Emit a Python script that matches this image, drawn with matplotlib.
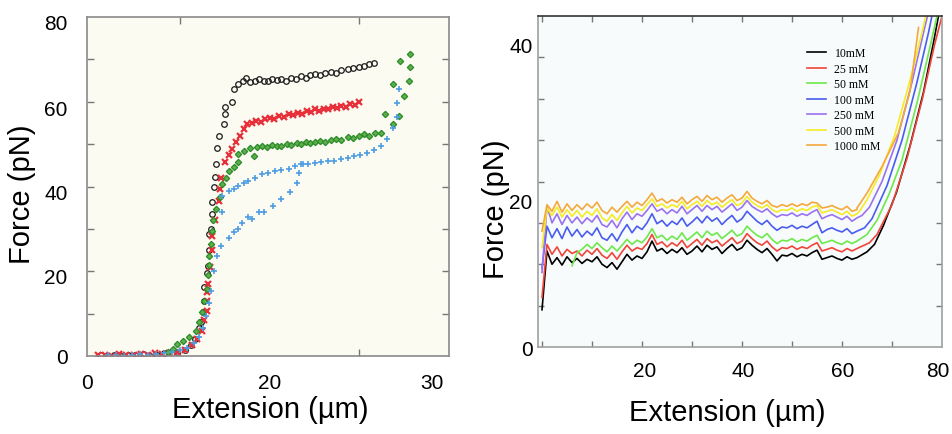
import matplotlib.pyplot as plt
import numpy as np

plt.rcParams['font.family'] = ['Liberation Sans', 'DejaVu Sans']

# ---------------- left panel: scatter data (extension um, force pN) ----------------
black_x = [1.2, 2.6, 3.4, 4.2, 5.0, 5.8, 6.6, 7.4, 8.2, 9.6, 10.5, 11.2, 11.7, 12.1, 12.3,
           12.5, 12.7, 12.7, 13.0, 13.1, 13.2, 13.2, 13.4, 13.6, 13.6, 13.8, 13.9, 14.0, 14.1,
           14.3, 14.9, 15.0, 15.0, 15.8, 16.0, 16.5, 17.0, 17.4, 17.8, 18.3, 18.8, 19.3, 19.8,
           20.3, 20.8, 21.3, 21.8, 22.4, 22.9, 23.5, 24.0, 24.5, 25.0, 25.6, 26.2, 26.8, 27.4,
           28.0, 28.7, 29.3, 29.9, 30.5, 31.1, 31.6]
black_y = [0.3, 0.2, 0.0, 0.3, 0.2, 0.4, 0.0, 0.3, 0.6, 1.0, 1.5, 2.5, 4.0, 6.5, 8.0,
           10.5, 13.0, 16.2, 19.5, 21.3, 25.0, 28.8, 29.9, 33.5, 36.3, 40.0, 42.2, 45.4, 49.2,
           52.0, 54.7, 57.1, 58.7, 59.9, 63.0, 64.2, 64.8, 65.5, 64.6, 64.9, 65.3, 64.8, 65.0,
           65.4, 65.1, 65.3, 65.0, 65.6, 65.3, 66.0, 65.7, 66.3, 66.5, 66.2, 66.8, 67.0, 66.9,
           67.4, 67.7, 67.9, 68.2, 68.5, 68.9, 69.2]

red_x = [0.8, 1.6, 2.4, 3.2, 4.0, 4.8, 5.6, 6.4, 7.2, 8.0, 8.8, 9.6, 10.5, 11.3, 11.9,
         12.4, 12.7, 13.0, 13.0, 13.0, 13.1, 13.3, 13.5, 13.6, 13.9, 14.3, 14.4, 14.6, 15.0,
         15.4, 15.8, 16.2, 16.7, 17.1, 17.5, 18.0, 18.5, 19.0, 19.5, 20.0, 20.5, 21.0, 21.6,
         22.1, 22.6, 23.1, 23.6, 24.1, 24.6, 25.0, 25.5, 26.0, 26.5, 27.0, 27.5, 28.0, 28.5,
         29.0, 29.5, 29.9]
red_y = [0.3, 0.2, 0.0, 0.4, 0.3, 0.2, 0.5, 0.3, 0.6, 0.4, 0.8, 0.9, 1.5, 2.5, 4.0,
         6.0, 8.5, 10.7, 13.0, 15.0, 17.0, 21.0, 25.0, 28.4, 32.0, 36.6, 39.4, 42.0, 45.7,
         47.5, 48.8, 50.5, 52.0, 53.5, 54.7, 55.1, 55.5, 55.3, 55.9, 56.2, 56.0, 56.6, 56.4,
         57.1, 56.8, 57.4, 57.2, 57.8, 57.5, 58.2, 57.9, 58.4, 58.2, 58.7, 58.5, 59.0, 58.8,
         59.4, 59.3, 59.9]

green_x = [8.6, 9.2, 9.6, 10.3, 11.0, 11.75, 12.1, 12.4, 12.7, 13.0, 13.1, 13.2, 13.2, 13.4,
           13.5, 13.7, 14.0, 14.4, 14.7, 15.1, 15.4, 16.0, 16.4, 16.4, 17.1, 18.2, 17.8, 18.6,
           19.1, 19.7, 20.3, 20.8, 21.3, 21.9, 22.4, 23.0, 23.5, 24.0, 24.5, 25.0, 25.6, 26.2,
           26.8, 27.4, 28.0, 28.7, 29.3, 29.9, 30.5, 31.1, 31.7, 32.4, 32.9, 33.7, 34.4, 35.0,
           33.8, 35.5, 35.7, 34.5, 35.7]
green_y = [1.0, 1.6, 2.8, 3.5, 4.5, 6.0, 8.0, 10.3, 13.0, 15.8, 19.0, 21.5, 23.7, 26.4,
           29.5, 32.0, 34.7, 37.5, 40.6, 42.0, 43.7, 44.5, 45.7, 47.6, 48.4, 47.2, 49.0, 49.4,
           49.6, 49.3, 49.8, 49.5, 49.6, 50.0, 49.8, 50.2, 50.0, 50.5, 50.2, 50.4, 50.8, 50.6,
           51.0, 51.2, 51.0, 51.6, 51.4, 52.0, 52.4, 52.0, 52.6, 52.7, 57.1, 54.7, 56.7, 61.4,
           64.2, 64.9, 68.1, 69.6, 71.2]

blue_x = [1.9, 2.8, 3.7, 4.6, 5.5, 6.4, 7.3, 8.2, 9.1, 10.0, 10.8, 11.5, 12.1, 12.5, 12.9,
          13.2, 13.4, 13.8, 14.1, 14.5, 14.7, 15.4, 16.0, 16.5, 16.9, 17.6, 18.0, 18.75, 19.3,
          20.4, 21.3, 22.2, 23.0, 23.3, 23.7,
          14.7, 15.4, 16.0, 16.5, 17.1, 17.6, 18.3, 19.1, 19.8, 20.6, 21.3, 22.1, 22.8, 23.5,
          24.3, 25.0, 25.7, 26.5, 27.2, 27.9, 28.7, 29.4, 30.1, 30.9, 31.6, 32.4, 33.1, 33.8,
          34.2, 34.2, 34.4]
blue_y = [0.2, 0.3, 0.0, 0.2, 0.4, 0.2, 0.5, 0.6, 0.9, 1.3, 2.0, 3.0, 4.5, 6.5, 9.5,
          12.5, 15.3, 20.1, 23.7, 26.0, 33.9, 27.9, 29.2, 30.0, 31.5, 32.7, 32.3, 33.9, 33.9,
          35.3, 37.0, 38.6, 40.9, 43.3, 45.3,
          37.8, 39.0, 39.5, 40.2, 40.8, 41.4, 42.1, 42.9, 43.3, 43.7, 44.0, 44.2, 44.8, 45.3,
          45.2, 45.5, 45.8, 45.9, 46.1, 46.6, 46.8, 47.2, 47.5, 48.0, 48.6, 49.6, 51.2, 53.9,
          56.5, 59.8, 63.0]

# ---------------- right panel: force-extension curves ----------------
plateau_ext = list(range(64))
nan = np.nan

f_10 = [4.5, 11.6, 10.0, 10.8, 9.9, 10.9, 10.2, 10.7,
        10.1, 10.6, 10.3, 10.9, 10.0, 9.6, 10.2, 9.4,
        10.3, 11.2, 10.5, 11.0, 10.7, 11.5, 12.8, 11.6,
        11.9, 11.3, 11.8, 11.4, 12.0, 11.2, 11.6, 12.2,
        11.5, 12.3, 11.8, 12.1, 11.3, 11.9, 12.4, 11.7,
        12.0, 12.9, 12.3, 11.8, 11.4, 11.9, 11.2, 10.4,
        11.1, 11.0, 11.3, 10.9, 11.2, 11.0, 11.4, 11.7,
        10.6, 10.8, 11.0, 10.7, 10.5, 10.9, 10.6, 10.8]
f_25 = [6.0, 12.4, 11.2, 12.1, 11.0, 11.8, 11.3, 11.6,
        11.0, 11.7, 11.2, 11.9, 11.1, 10.7, 11.4, 10.6,
        11.5, 12.3, 11.6, 12.0, 11.8, 12.5, 13.6, 12.4,
        12.7, 12.1, 12.6, 12.2, 12.9, 12.0, 12.5, 13.0,
        12.3, 13.1, 12.6, 12.9, 12.2, 12.7, 13.2, 12.5,
        12.8, 13.7, 13.1, 12.6, 12.3, 12.8, 12.1, 11.6,
        12.0, 11.9, 12.2, 11.8, 12.1, 11.9, 12.3, 12.6,
        11.6, 11.8, 12.0, 11.7, 11.5, 11.9, 11.6, 11.9]
f_50 = [nan, nan, nan, nan, nan, nan, 9.8, 11.4,
        11.8, 12.4, 11.9, 12.6, 12.0, 11.5, 12.2, 11.6,
        12.3, 13.0, 12.4, 12.9, 12.6, 13.3, 14.3, 13.2,
        13.5, 12.9, 13.4, 13.0, 13.8, 12.9, 13.4, 13.9,
        13.2, 14.0, 13.5, 13.8, 13.1, 13.6, 14.1, 13.4,
        13.7, 14.6, 14.0, 13.5, 13.2, 13.7, 13.0, 12.5,
        12.9, 12.8, 13.1, 12.7, 13.0, 12.8, 13.2, 13.5,
        12.5, 12.7, 12.9, 12.6, 12.4, 12.8, 12.5, 12.8]
f_100 = [9.5, 14.6, 13.2, 14.3, 13.1, 14.5, 13.4, 14.2,
         13.3, 14.0, 13.5, 14.4, 13.2, 12.9, 13.7, 12.8,
         13.9, 14.8, 13.8, 14.6, 14.2, 15.0, 16.1, 14.9,
         15.3, 14.6, 15.2, 14.8, 15.6, 14.6, 15.1, 15.7,
         15.0, 15.8, 15.2, 15.6, 14.8, 15.4, 15.9, 15.1,
         15.5, 16.4, 15.8, 15.2, 14.8, 15.3, 14.6, 14.1,
         14.5, 14.4, 14.7, 14.3, 14.6, 14.4, 14.8, 15.2,
         13.8, 14.2, 14.4, 14.1, 13.9, 14.3, 13.7, 14.0]
f_250 = [9.0, 17.0, 15.0, 16.1, 14.8, 15.9, 15.0, 15.7,
         14.9, 15.6, 15.1, 15.9, 14.8, 14.5, 15.3, 14.4,
         15.5, 16.3, 15.4, 16.1, 15.8, 16.5, 17.3, 16.4,
         16.7, 16.1, 16.6, 16.2, 17.0, 16.1, 16.6, 17.1,
         16.4, 17.1, 16.6, 17.0, 16.3, 16.8, 17.3, 16.5,
         16.9, 17.7, 17.0, 16.6, 16.3, 16.7, 16.1, 15.7,
         16.0, 15.9, 16.2, 15.8, 16.1, 15.9, 16.3, 16.6,
         15.5, 15.8, 16.0, 15.7, 15.4, 15.8, 15.2, 15.6]
f_500 = [12.0, 16.8, 15.9, 16.9, 15.7, 16.6, 15.8, 16.5,
         15.7, 16.4, 15.9, 16.7, 15.6, 15.2, 16.0, 15.3,
         16.2, 17.0, 16.2, 16.8, 16.5, 17.2, 17.9, 17.0,
         17.3, 16.8, 17.2, 16.9, 17.6, 16.7, 17.2, 17.6,
         17.0, 17.7, 17.2, 17.5, 16.9, 17.4, 17.8, 17.1,
         17.4, 18.2, 17.5, 17.1, 16.8, 17.2, 16.6, 16.3,
         16.6, 16.5, 16.8, 16.4, 16.7, 16.5, 16.9, 17.1,
         16.2, 16.4, 16.6, 16.3, 16.0, 16.4, 15.8, 16.1]
f_1000 = [14.0, 17.2, 16.4, 17.6, 16.3, 17.3, 16.5, 17.2,
          16.6, 17.3, 16.8, 17.5, 16.5, 16.1, 16.9, 16.3,
          17.0, 17.6, 16.9, 17.5, 17.1, 17.8, 18.6, 17.6,
          17.9, 17.4, 17.8, 17.5, 18.1, 17.3, 17.8, 18.2,
          17.6, 18.3, 17.8, 18.1, 17.5, 18.0, 18.4, 17.7,
          18.0, 18.8, 18.0, 17.6, 17.3, 17.7, 17.1, 16.9,
          17.2, 17.0, 17.3, 17.0, 17.3, 17.1, 17.5, 17.4,
          16.8, 16.9, 17.1, 16.8, 16.6, 17.0, 16.4, 16.6]

# stretching part after the plateau (x, force)
rise_10 = ([65.0, 66.5, 68.3, 70.9, 73.6, 76.3, 78.3, 79.3, 80.5], [11.5, 12.4, 14.7, 18.7, 24.3, 30.8, 36.8, 40.0, 42.0])
rise_25 = ([65.5, 67.0, 70.0, 73.0, 76.0, 78.5, 80.0, 81.0], [12.6, 13.6, 17.2, 22.8, 29.8, 36.5, 40.0, 42.0])
rise_50 = ([65.0, 67.0, 69.5, 72.0, 75.0, 77.5, 79.0, 80.0], [13.6, 15.3, 18.6, 22.6, 29.5, 36.0, 40.0, 42.0])
rise_100 = ([64.5, 66.0, 69.0, 72.0, 75.0, 77.3, 78.5], [14.4, 15.5, 19.5, 25.0, 32.0, 38.0, 41.5])
rise_250 = ([64.0, 65.5, 68.0, 71.0, 74.0, 76.5, 77.7], [15.9, 16.9, 20.0, 25.0, 32.0, 38.5, 41.5])
rise_500 = ([63.5, 65.0, 67.5, 70.5, 73.5, 76.0, 77.3], [16.4, 17.8, 20.8, 25.5, 32.0, 38.0, 41.5])
rise_1000 = ([63.0, 65.0, 68.0, 71.3, 73.6, 75.3], [16.8, 18.6, 21.8, 25.9, 30.9, 38.6])

salt_labels = ["10mM", "25 mM", "50 mM", "100 mM", "250 mM", "500 mM", "1000 mM"]
salt_colors = ["#000000", "#f0453a", "#6ee84a", "#4a5cf0", "#9a72f0", "#f5ec25", "#f5a83a"]
plateaus = [f_10, f_25, f_50, f_100, f_250, f_500, f_1000]
rises = [rise_10, rise_25, rise_50, rise_100, rise_250, rise_500, rise_1000]

fig = plt.figure(figsize=(9.52, 4.35), dpi=100)

# ---- left panel ----
ax1 = fig.add_axes([87 / 952, 1 - 357 / 435, 362 / 952, 339 / 435])
ax1.set_facecolor("#fbfbf2")
ax1.plot(black_x, black_y, ls="none", marker="o", ms=4, mfc="none", mec="#1a1a1a", mew=0.9)
ax1.plot(red_x, red_y, ls="none", marker="x", ms=4.5, mec="#e8303a", mew=1.6)
ax1.plot(green_x, green_y, ls="none", marker="D", ms=3.2, mfc="#5fb04a", mec="#2a8a2a", mew=0.9)
ax1.plot(blue_x, blue_y, ls="none", marker="+", ms=5, mec="#4d9de0", mew=1.2)
ax1.set_xlim(0, 40)
ax1.set_ylim(0, 80)

# labels as major ticks (no marks), marks as minor ticks
ax1.set_xticks([-0.4, 20, 38.1], ["0", "20", "30"])
ax1.set_yticks([0.2, 19.1, 38.9, 58.7, 79.0], ["0", "20", "40", "60", "80"])
ax1.set_xticks([10, 20, 30], minor=True)
ax1.set_yticks([10, 20, 30, 40, 50, 60, 70], minor=True)
ax1.tick_params(which="major", length=0, labelsize=15)
ax1.tick_params(axis="x", which="major", pad=12)
ax1.tick_params(axis="y", which="major", pad=14)
ax1.tick_params(which="minor", direction="in", length=5, width=1.0, color="#777777",
                top=True, bottom=True, left=True, right=True)
for s in ax1.spines.values():
    s.set_color("#8a8a8a")
    s.set_linewidth(1.2)
ax1.set_xlabel("Extension (µm)", fontsize=21)
ax1.set_ylabel("Force (pN)", fontsize=21)
ax1.xaxis.set_label_coords(0.506, -0.115)
ax1.yaxis.set_label_coords(-0.142, 0.48)

# ---- right panel ----
ax2 = fig.add_axes([538 / 952, 1 - 348 / 435, 404 / 952, 331 / 435])
ax2.set_facecolor("#f7fbfb")
for lab, col, plat, (rx, ry) in zip(salt_labels, salt_colors, plateaus, rises):
    ax2.plot(plateau_ext + rx, plat + ry, color=col, lw=1.2, label=lab)
ax2.set_xlim(-0.8, 80)
ax2.set_ylim(0, 40)
ax2.set_xticks([20.6, 40.2, 60.2, 79.2], ["20", "40", "60", "80"])
ax2.set_yticks([0, 17.75, 36.6], ["0", "20", "40"])
ax2.set_xticks([0, 10, 20, 30, 40, 50, 60, 70], minor=True)
ax2.set_yticks([5, 10, 15, 20, 25, 30, 35], minor=True)
ax2.tick_params(which="major", length=0, labelsize=15)
ax2.tick_params(axis="x", which="major", pad=10)
ax2.tick_params(axis="y", which="major", pad=4)
ax2.tick_params(which="minor", direction="in", length=4, width=1.0, color="#777777",
                top=True, bottom=True, left=True, right=True)
for name, s in ax2.spines.items():
    s.set_color("#333333" if name == "top" else "#a0a0a0")
    s.set_linewidth(1.2)
ax2.set_xlabel("Extension (µm)", fontsize=21)
ax2.set_ylabel("Force (pN)", fontsize=21)
ax2.xaxis.set_label_coords(0.468, -0.155)
ax2.yaxis.set_label_coords(-0.07, 0.42)

ax2.legend(loc="upper left", bbox_to_anchor=(0.655, 0.92), frameon=False,
           prop={"family": "Liberation Serif", "size": 8.5},
           handlelength=1.6, handletextpad=0.7, labelspacing=0.3, borderaxespad=0)

fig.savefig("out.png", dpi=100)
